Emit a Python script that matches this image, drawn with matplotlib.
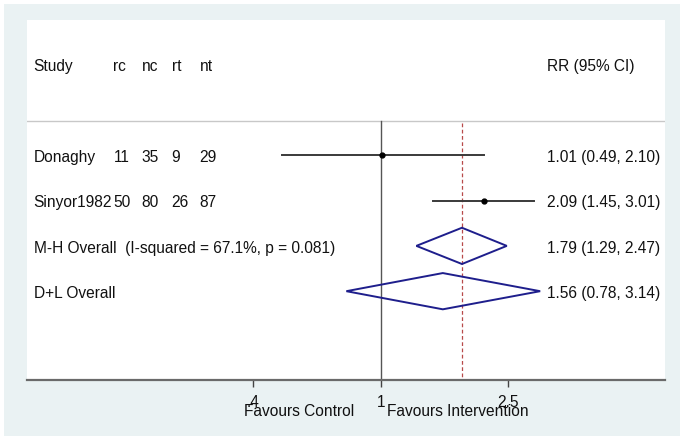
import matplotlib
matplotlib.use("Agg")
import matplotlib.pyplot as plt
from matplotlib.patches import Rectangle, Polygon
import matplotlib.transforms as mtransforms

plt.rcParams['font.family'] = ['Liberation Sans', 'DejaVu Sans']

# ---- data ----
studies = ["Donaghy", "Sinyor1982"]
rc = [11, 50]
nc = [35, 80]
rt = [9, 26]
nt = [29, 87]
rr = [1.01, 2.09]
rr_lo = [0.49, 1.45]
rr_hi = [2.10, 3.01]

pooled_labels = ["M-H Overall  (I-squared = 67.1%, p = 0.081)", "D+L Overall"]
pooled_rr = [1.79, 1.56]
pooled_lo = [1.29, 0.78]
pooled_hi = [2.47, 3.14]

header_cols = ["rc", "nc", "rt", "nt"]
xtick_vals = [0.4, 1, 2.5]
xtick_labels = [".4", "1", "2.5"]
favours_left = "Favours Control"
favours_right = "Favours Intervention"

# ---- layout ----
W, H = 688, 442
fig = plt.figure(figsize=(W / 100, H / 100), dpi=100, facecolor='white')
bg = Rectangle((4 / W, 6 / H), 676 / W, 432 / H, transform=fig.transFigure,
               facecolor='#EAF2F3', edgecolor='none', zorder=-5)
fig.patches.append(bg)

ax_l, ax_r, ax_t, ax_b = 27, 665, 20, 380
ax = fig.add_axes([ax_l / W, (H - ax_b) / H, (ax_r - ax_l) / W, (ax_b - ax_t) / H])
ax.set_facecolor('white')
ax.set_xscale('log')
ax.set_xlim(0.0786, 7.70)
ax.set_ylim(6.93, -1.015)

for s in ['top', 'left', 'right']:
    ax.spines[s].set_visible(False)
ax.spines['bottom'].set_color('#6A6A6A')
ax.spines['bottom'].set_linewidth(1.6)
ax.set_yticks([])
ax.set_xticks(xtick_vals)
ax.set_xticklabels(xtick_labels)
ax.minorticks_off()
ax.tick_params(axis='x', length=5, width=1, color='#444444', pad=5.5,
               labelsize=11.2, labelcolor='#111111')

fs = 11.2
tc = '#111111'
blend = mtransforms.blended_transform_factory(ax.transAxes, ax.transData)
col_x = [0.1355, 0.1795, 0.2265, 0.2705]
name_x = 0.0105
rr_x = 0.8145
boff = 0.12

header_row = 0
study_rows = [2, 3]
pooled_rows = [4, 5]

# header
ax.text(name_x, header_row + boff, "Study", transform=blend, fontsize=fs, va='baseline', color=tc)
for cx, lab in zip(col_x, header_cols):
    ax.text(cx, header_row + boff, lab, transform=blend, fontsize=fs, va='baseline', color=tc)
ax.text(rr_x, header_row + boff, "RR (95% CI)", transform=blend, fontsize=fs, va='baseline', color=tc)

# header separator line
ax.axhline(1.214, color='#C8C8C8', lw=1.0, zorder=1)

# null line and pooled estimate line
ax.plot([1, 1], [1.214, 6.93], color='#555555', lw=1.0, zorder=2)
ax.plot([pooled_rr[0], pooled_rr[0]], [1.26, 6.93], color='#B84A4A', lw=0.9,
        dashes=(3, 2), zorder=2)

# studies
for i, r in enumerate(study_rows):
    vals = [rc[i], nc[i], rt[i], nt[i]]
    ax.text(name_x, r + boff, studies[i], transform=blend, fontsize=fs, va='baseline', color=tc)
    for cx, v in zip(col_x, vals):
        ax.text(cx, r + boff, str(v), transform=blend, fontsize=fs, va='baseline', color=tc)
    ax.plot([rr_lo[i], rr_hi[i]], [r - 0.03, r - 0.03], color='#3A3A3A', lw=1.4, zorder=3)
    ax.plot([rr[i]], [r - 0.03], 'o', color='black', ms=3.5, zorder=4)
    ax.text(rr_x, r + boff, f"{rr[i]:.2f} ({rr_lo[i]:.2f}, {rr_hi[i]:.2f})",
            transform=blend, fontsize=fs, va='baseline', color=tc)

# pooled diamonds
h = 0.40
for i, r in enumerate(pooled_rows):
    rc_ = r - 0.03
    ax.text(name_x, r + boff, pooled_labels[i], transform=blend, fontsize=fs, va='baseline', color=tc)
    poly = Polygon([(pooled_lo[i], rc_), (pooled_rr[i], rc_ - h), (pooled_hi[i], rc_),
                    (pooled_rr[i], rc_ + h)], closed=True, facecolor='none',
                   edgecolor='#1E1E8C', lw=1.4, zorder=4)
    ax.add_patch(poly)
    ax.text(rr_x, r + boff, f"{pooled_rr[i]:.2f} ({pooled_lo[i]:.2f}, {pooled_hi[i]:.2f})",
            transform=blend, fontsize=fs, va='baseline', color=tc)

# favours labels
fav_y = -0.10
btr = mtransforms.blended_transform_factory(ax.transData, ax.transAxes)
ax.text(0.824, fav_y, favours_left, transform=btr, ha='right', va='baseline', fontsize=fs, color=tc)
ax.text(1.044, fav_y, favours_right, transform=btr, ha='left', va='baseline', fontsize=fs, color=tc)

fig.savefig("out.png", dpi=100, facecolor=fig.get_facecolor())
